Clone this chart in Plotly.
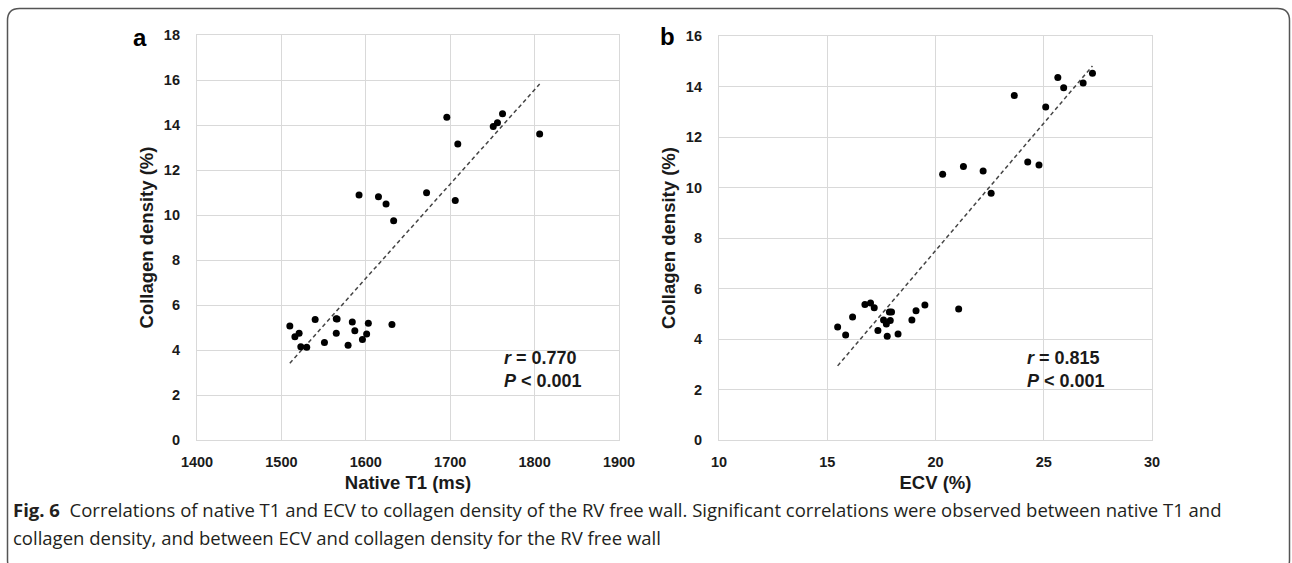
import numpy as np
import plotly.graph_objects as go

# ---- data ----
t1_ms = [1696, 1709, 1751, 1756, 1762, 1806, 1592, 1615, 1624, 1633, 1672, 1706,
         1510, 1516, 1521, 1523, 1530, 1540, 1551, 1565, 1566, 1565, 1579, 1584,
         1587, 1596, 1601, 1603, 1631]
collagen_a = [14.34, 13.16, 13.93, 14.10, 14.50, 13.60, 10.89, 10.81, 10.49, 9.75, 10.99, 10.64,
              5.07, 4.59, 4.74, 4.15, 4.12, 5.36, 4.33, 5.39, 5.38, 4.74, 4.21, 5.24,
              4.86, 4.47, 4.71, 5.19, 5.13]

ecv_pct = [27.25, 26.82, 25.92, 25.65, 25.09, 23.64, 24.26, 24.78, 20.33, 21.29, 22.20, 22.57,
           21.07, 19.51, 19.10, 18.91, 18.27, 17.77, 17.97, 17.87, 17.91, 17.73, 17.60, 17.34,
           17.17, 17.00, 16.74, 16.17, 15.85, 15.48]
collagen_b = [14.52, 14.14, 13.95, 14.36, 13.19, 13.64, 11.01, 10.89, 10.52, 10.83, 10.65, 9.77,
              5.19, 5.35, 5.12, 4.75, 4.20, 4.11, 5.07, 5.07, 4.73, 4.59, 4.75, 4.34,
              5.24, 5.43, 5.37, 4.87, 4.16, 4.48]

x_ticks_a = [1400, 1500, 1600, 1700, 1800, 1900]
y_ticks_a = [0, 2, 4, 6, 8, 10, 12, 14, 16, 18]
x_ticks_b = [10, 15, 20, 25, 30]
y_ticks_b = [0, 2, 4, 6, 8, 10, 12, 14, 16]

stats_a = ("0.770", "0.001")
stats_b = ("0.815", "0.001")

W, H = 1292, 563


def px(x):
    return x / W


def py(y):
    return 1 - y / H


def fit_line(x, y):
    k, b = np.polyfit(np.array(x, float), np.array(y, float), 1)
    xs = np.array([min(x), max(x)], float)
    return xs, k * xs + b


fig = go.Figure()

for xs, ys, xa, ya in [(t1_ms, collagen_a, "x", "y"), (ecv_pct, collagen_b, "x2", "y2")]:
    lx, ly = fit_line(xs, ys)
    fig.add_trace(go.Scatter(x=lx, y=ly, mode="lines", xaxis=xa, yaxis=ya,
                             line=dict(color="#444444", width=1.5, dash="4px,3px"),
                             showlegend=False, hoverinfo="skip"))
    fig.add_trace(go.Scatter(x=xs, y=ys, mode="markers", xaxis=xa, yaxis=ya,
                             marker=dict(color="black", size=7),
                             showlegend=False))

grid = "#d9d9d9"
tickfont = dict(family="Liberation Sans, Arial", size=14.5, color="#1a1a1a", weight="bold")
titlefont = dict(family="Liberation Sans, Arial", size=18.5, color="#1a1a1a", weight="bold")

common_axis = dict(showgrid=True, gridcolor=grid, gridwidth=1, showline=True, linecolor=grid,
                   linewidth=1.2, mirror=True, zeroline=False, ticks="", tickfont=tickfont,
                   automargin=False)

fig.update_layout(
    width=W, height=H,
    margin=dict(l=0, r=0, t=0, b=0, pad=0),
    paper_bgcolor="white", plot_bgcolor="white",
    xaxis=dict(domain=[px(197), px(619)], range=[1400, 1900], tickvals=x_ticks_a,
               title=dict(text="Native T1 (ms)", font=titlefont, standoff=7),
               ticklabelstandoff=8, anchor="y", **common_axis),
    yaxis=dict(domain=[py(440), py(35)], range=[0, 18], tickvals=y_ticks_a,
               title=dict(text="Collagen density (%)", font=titlefont, standoff=5),
               ticklabelstandoff=13, anchor="x", **common_axis),
    xaxis2=dict(domain=[px(719), px(1152)], range=[10, 30], tickvals=x_ticks_b,
                title=dict(text="ECV (%)", font=titlefont, standoff=7),
                ticklabelstandoff=8, anchor="y2", **common_axis),
    yaxis2=dict(domain=[py(440), py(36)], range=[0, 16], tickvals=y_ticks_b,
                title=dict(text="Collagen density (%)", font=titlefont, standoff=5),
                ticklabelstandoff=13, anchor="x2", **common_axis),
)

annots = []
statfont = dict(family="Liberation Sans, Arial", size=18, color="#1a1a1a", weight="bold")
for (r, p), x0 in [(stats_a, 502), (stats_b, 1025)]:
    annots.append(dict(x=px(x0), y=py(358), xref="paper", yref="paper", xanchor="left",
                       yanchor="middle", showarrow=False, font=statfont,
                       text=f"<i>r</i> = {r}"))
    annots.append(dict(x=px(x0), y=py(381), xref="paper", yref="paper", xanchor="left",
                       yanchor="middle", showarrow=False, font=statfont,
                       text=f"<i>P</i> &lt; {p}"))

panelfont = dict(family="Liberation Sans, Arial", size=24, color="black", weight="bold")
annots.append(dict(x=px(140), y=py(37), xref="paper", yref="paper", text="a", showarrow=False,
                   xanchor="center", yanchor="middle", font=panelfont))
annots.append(dict(x=px(667), y=py(36), xref="paper", yref="paper", text="b", showarrow=False,
                   xanchor="center", yanchor="middle", font=panelfont))

capfont = dict(family="Open Sans, Noto Sans", size=18.5, color="#231f20")
annots.append(dict(x=px(11), y=py(509), xref="paper", yref="paper", xanchor="left",
                   yanchor="middle", showarrow=False, font=capfont,
                   text="<b>Fig. 6</b>  Correlations of native T1 and ECV to collagen density of the RV free wall. "
                        "Significant correlations were observed between native T1 and"))
annots.append(dict(x=px(11), y=py(537), xref="paper", yref="paper", xanchor="left",
                   yanchor="middle", showarrow=False, font=capfont,
                   text="collagen density, and between ECV and collagen density for the RV free wall"))
fig.update_layout(annotations=annots)

# rounded frame around the whole figure
x0, y0, x1, y1, r = 7.5, 8.5, 1289.5, 572, 12
path = (f"M {px(x0)},{py(y0 + r)} Q {px(x0)},{py(y0)} {px(x0 + r)},{py(y0)} "
        f"L {px(x1 - r)},{py(y0)} Q {px(x1)},{py(y0)} {px(x1)},{py(y0 + r)} "
        f"L {px(x1)},{py(y1 - r)} Q {px(x1)},{py(y1)} {px(x1 - r)},{py(y1)} "
        f"L {px(x0 + r)},{py(y1)} Q {px(x0)},{py(y1)} {px(x0)},{py(y1 - r)} Z")
fig.add_shape(type="path", path=path, xref="paper", yref="paper",
              line=dict(color="#555555", width=1.5), fillcolor="rgba(0,0,0,0)")

fig.write_html("out.html")
